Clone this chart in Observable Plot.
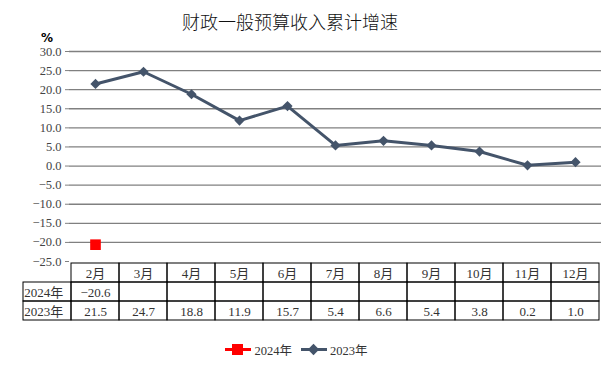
<!DOCTYPE html>
<html><head><meta charset="utf-8">
<script src="https://cdn.jsdelivr.net/npm/d3@7"></script>
<script src="https://cdn.jsdelivr.net/npm/@observablehq/plot@0.6"></script>
<style>
body{margin:0;background:#fff;font-family:"Liberation Serif","Noto Sans CJK SC",serif;}
#wrap{position:relative;width:616px;height:366px;overflow:hidden;}
#title{position:absolute;left:0;width:580px;top:8px;text-align:center;font-size:18px;color:#111;font-family:"Noto Sans CJK SC",sans-serif;font-weight:300;}
#pct{position:absolute;left:41px;top:31px;font-size:12px;font-weight:bold;font-family:"DejaVu Sans",sans-serif;}
#chart{position:absolute;left:0;top:0;z-index:2;}
#table{position:absolute;left:0;top:261px;z-index:1;}
#chart svg,#table svg{overflow:visible;}
svg text{font-family:"Liberation Serif","Noto Sans CJK SC",serif !important;}
#legend{position:absolute;left:0;width:596px;top:340px;text-align:center;font-size:12.5px;color:#333;}
#legend span{display:inline-flex;align-items:center;margin:0 3px;}
</style></head>
<body><div id="wrap">
<div id="table"></div><div id="chart"></div>
<div id="title">财政一般预算收入累计增速</div>
<div id="pct">%</div>
<div id="legend"></div>
</div>
<script>
const months = ["2月","3月","4月","5月","6月","7月","8月","9月","10月","11月","12月"];
const values2023 = [21.5,24.7,18.8,11.9,15.7,5.4,6.6,5.4,3.8,0.2,1.0];
const values2024 = [-20.6];
const yTicks = [30,25,20,15,10,5,0,-5,-10,-15,-20,-25];
const seriesNames = ["2024年","2023年"];
const colors = {"2024年":"#ff0000","2023年":"#44546a"};

const fmt = d3.format(".1f");
const d23 = months.map((m,i)=>({m, v:values2023[i]}));
const d24 = values2024.map((v,i)=>({m:months[i], v}));
const font = '"Liberation Serif","Noto Sans CJK SC",serif';

const chart = Plot.plot({
  width:616, height:262,
  marginLeft:69, marginRight:15, marginTop:51, marginBottom:1,
  style:{fontFamily:font, fontSize:"12px", color:"#333", background:"transparent"},
  x:{type:"point", domain:months, padding:0.5, axis:null},
  y:{domain:[-25,30], axis:null},
  marks:[
    Plot.ruleY(yTicks.filter(t=>t>-25), {stroke:"#808080", strokeWidth:1.3}),
    Plot.axisY({ticks:yTicks, tickFormat:fmt, tickSize:4, tickPadding:4, stroke:"#808080", fill:"#444", label:null, fontSize:12.5, fontFamily:font}),
    Plot.ruleX([0], {frameAnchor:"left", stroke:"#808080", strokeWidth:1.3}),
    Plot.line(d23, {x:"m", y:"v", stroke:colors["2023年"], strokeWidth:3}),
    Plot.dot(d23, {x:"m", y:"v", symbol:"diamond2", r:4.6, fill:colors["2023年"], stroke:null}),
    Plot.line(d24, {x:"m", y:"v", stroke:colors["2024年"], strokeWidth:3}),
    Plot.dot(d24, {x:"m", y:"v", symbol:"square", r:6, fill:colors["2024年"], stroke:null})
  ]
});
document.getElementById("chart").append(chart);

// table
const step = (601-69)/months.length;
const cols = ["label", ...months];
const rows = ["head", ...seriesNames];
const cells = [];
for (const r of rows) for (const c of cols) if (!(r==="head" && c==="label")) cells.push({r,c});
const texts = [];
months.forEach(m=>texts.push({r:"head", c:m, t:m}));
seriesNames.forEach(s=>texts.push({r:s, c:"label", t:s}));
values2024.forEach((v,i)=>texts.push({r:"2024年", c:months[i], t:fmt(v)}));
values2023.forEach((v,i)=>texts.push({r:"2023年", c:months[i], t:fmt(v)}));

const table = Plot.plot({
  width:616, height:61,
  marginLeft:69-step, marginRight:15, marginTop:0.5, marginBottom:1.5,
  style:{fontFamily:font, fontSize:"12.5px", color:"#222", background:"transparent"},
  x:{type:"band", domain:cols, padding:0, axis:null},
  y:{type:"band", domain:rows, padding:0, axis:null, range:[0.5,59.5]},
  marks:[
    Plot.cell(cells, {x:"c", y:"r", fill:"none", stroke:"#000", strokeWidth:1}),
    Plot.text(texts.filter(d=>d.c!=="label"), {x:"c", y:"r", text:"t", fill:"#333", dy:1, fontFamily:font, fontSize:13}),
    Plot.text(texts.filter(d=>d.c==="label"), {x:"c", y:"r", text:"t", fill:"#333", textAnchor:"start", dx:-step/2+1, dy:1, fontFamily:font, fontSize:13})
  ]
});
document.getElementById("table").append(table);

// legend
const lg = document.getElementById("legend");
seriesNames.forEach(s=>{
  const sp = document.createElement("span");
  const sym = s==="2024年"
    ? `<rect x="7" y="2" width="11" height="11" fill="${colors[s]}"/>`
    : `<rect x="8.5" y="3.5" width="8" height="8" fill="${colors[s]}" transform="rotate(45 12.5 7.5)"/>`;
  sp.innerHTML = `<svg width="26" height="15"><line x1="0" x2="26" y1="7.5" y2="7.5" stroke="${colors[s]}" stroke-width="3"/>${sym}</svg><span style="margin-left:3px">${s}</span>`;
  lg.append(sp);
});
</script>
</body></html>
